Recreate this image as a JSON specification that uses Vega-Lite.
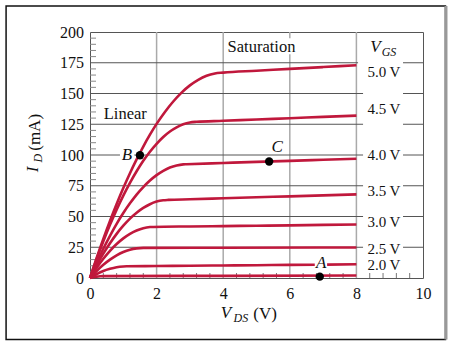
{
  "$schema": "https://vega.github.io/schema/vega-lite/v6.json",
  "width": 333,
  "height": 246,
  "autosize": {"type": "none"},
  "padding": {"left": 90, "top": 32, "right": 32, "bottom": 68},
  "background": "white",
  "config": {
    "view": {"stroke": "#555555", "strokeWidth": 1},
    "font": "Liberation Serif",
    "axis": {"grid": false, "domain": false, "ticks": false, "title": null, "labelFont": "Liberation Serif", "labelFontSize": 16, "labelColor": "#111111", "labelOverlap": false, "labelBound": false, "labelFlush": false}
  },
  "layer": [
    {
      "data": {"values": [{"x0": -2.52, "x1": 10.675, "y0": -50, "y1": 221.2}]},
      "mark": {"type": "rect", "fill": null, "stroke": "#111111", "strokeWidth": 1.5},
      "encoding": {
        "x": {"field": "x0", "type": "quantitative", "scale": {"domain": [0, 10], "nice": false, "zero": false}, "axis": {"values": [0, 2, 4, 6, 8, 10], "tickCount": 50, "format": "d", "labelPadding": 7}},
        "x2": {"field": "x1"},
        "y": {"field": "y0", "type": "quantitative", "scale": {"domain": [0, 200], "nice": false, "zero": false}, "axis": {"values": [0, 25, 50, 75, 100, 125, 150, 175, 200], "tickCount": 50, "format": "d", "labelPadding": 6.5}},
        "y2": {"field": "y1"}
      }
    },
    {
      "data": {"values": [{"x": 10.69, "y0": -50, "y1": 221.2}]},
      "mark": {"type": "rule", "stroke": "#999999", "strokeWidth": 3},
      "encoding": {"x": {"field": "x", "type": "quantitative"}, "y": {"field": "y0", "type": "quantitative"}, "y2": {"field": "y1"}}
    },
    {
      "data": {"values": [
        {"x": 2, "y0": 0, "y1": 200},
        {"x": 4, "y0": 0, "y1": 200},
        {"x": 6, "y0": 0, "y1": 182},
        {"x": 6, "y0": 195, "y1": 200},
        {"x": 8, "y0": 0, "y1": 200}
      ]},
      "mark": {"type": "rule", "stroke": "#aaaaaa", "strokeWidth": 1.5},
      "encoding": {"x": {"field": "x", "type": "quantitative"}, "y": {"field": "y0", "type": "quantitative"}, "y2": {"field": "y1"}}
    },
    {
      "data": {"values": [
        {"y": 25, "x0": 0, "x1": 8.2}, {"y": 25, "x0": 9.4, "x1": 10},
        {"y": 50, "x0": 0, "x1": 8.2}, {"y": 50, "x0": 9.4, "x1": 10},
        {"y": 75, "x0": 0, "x1": 8.2}, {"y": 75, "x0": 9.4, "x1": 10},
        {"y": 100, "x0": 0, "x1": 0.9}, {"y": 100, "x0": 1.33, "x1": 8.2}, {"y": 100, "x0": 9.4, "x1": 10},
        {"y": 125, "x0": 0, "x1": 8.2}, {"y": 125, "x0": 9.4, "x1": 10},
        {"y": 150, "x0": 0, "x1": 8.2}, {"y": 150, "x0": 9.4, "x1": 10},
        {"y": 175, "x0": 0, "x1": 8.05}, {"y": 175, "x0": 9.4, "x1": 10}
      ]},
      "mark": {"type": "rule", "stroke": "#555555", "strokeWidth": 1},
      "encoding": {"y": {"field": "y", "type": "quantitative"}, "x": {"field": "x0", "type": "quantitative"}, "x2": {"field": "x1"}}
    },
    {
      "data": {"values": [{"x": 0.4}, {"x": 0.8}, {"x": 1.2}, {"x": 1.6}, {"x": 2.4}, {"x": 2.8}, {"x": 3.2}, {"x": 3.6}, {"x": 4.4}, {"x": 4.8}, {"x": 5.2}, {"x": 5.6}, {"x": 6.4}, {"x": 6.8}, {"x": 7.2}, {"x": 7.6}, {"x": 8.4}, {"x": 8.8}, {"x": 9.2}, {"x": 9.6}]},
      "mark": {"type": "tick", "orient": "vertical", "color": "#777777", "size": 5, "thickness": 1, "yOffset": -2.5, "opacity": 1},
      "encoding": {"x": {"field": "x", "type": "quantitative"}, "y": {"datum": 0, "type": "quantitative"}}
    },
    {
      "data": {"values": [{"y": 5}, {"y": 10}, {"y": 15}, {"y": 20}, {"y": 30}, {"y": 35}, {"y": 40}, {"y": 45}, {"y": 55}, {"y": 60}, {"y": 65}, {"y": 70}, {"y": 80}, {"y": 85}, {"y": 90}, {"y": 95}, {"y": 105}, {"y": 110}, {"y": 115}, {"y": 120}, {"y": 130}, {"y": 135}, {"y": 140}, {"y": 145}, {"y": 155}, {"y": 160}, {"y": 165}, {"y": 170}, {"y": 180}, {"y": 185}, {"y": 190}, {"y": 195}]},
      "mark": {"type": "tick", "orient": "horizontal", "color": "#888888", "size": 6, "thickness": 1, "xOffset": 3, "opacity": 1},
      "encoding": {"y": {"field": "y", "type": "quantitative"}, "x": {"datum": 0, "type": "quantitative"}}
    },
    {
      "data": {"values": [
        {"vgs": "5.0", "x": 0, "y": 0}, {"vgs": "5.0", "x": 0.2, "y": 16.3}, {"vgs": "5.0", "x": 0.4, "y": 31.7}, {"vgs": "5.0", "x": 0.6, "y": 46.3}, {"vgs": "5.0", "x": 0.8, "y": 60.1}, {"vgs": "5.0", "x": 1, "y": 73.1}, {"vgs": "5.0", "x": 1.2, "y": 85.2}, {"vgs": "5.0", "x": 1.4, "y": 96.4}, {"vgs": "5.0", "x": 1.6, "y": 106.9}, {"vgs": "5.0", "x": 1.8, "y": 116.5}, {"vgs": "5.0", "x": 2, "y": 125.3}, {"vgs": "5.0", "x": 2.25, "y": 135}, {"vgs": "5.0", "x": 2.5, "y": 143.5}, {"vgs": "5.0", "x": 2.75, "y": 150.7}, {"vgs": "5.0", "x": 3, "y": 156.6}, {"vgs": "5.0", "x": 3.25, "y": 161.1}, {"vgs": "5.0", "x": 3.5, "y": 164.4}, {"vgs": "5.0", "x": 3.75, "y": 166.3}, {"vgs": "5.0", "x": 4, "y": 167}, {"vgs": "5.0", "x": 5, "y": 168.5}, {"vgs": "5.0", "x": 6, "y": 170}, {"vgs": "5.0", "x": 7, "y": 171.5}, {"vgs": "5.0", "x": 8, "y": 173},
        {"vgs": "4.5", "x": 0, "y": 0}, {"vgs": "4.5", "x": 0.2, "y": 15.4}, {"vgs": "4.5", "x": 0.4, "y": 29.8}, {"vgs": "4.5", "x": 0.6, "y": 43.2}, {"vgs": "4.5", "x": 0.8, "y": 55.6}, {"vgs": "4.5", "x": 1, "y": 67}, {"vgs": "4.5", "x": 1.2, "y": 77.4}, {"vgs": "4.5", "x": 1.4, "y": 86.8}, {"vgs": "4.5", "x": 1.6, "y": 95.3}, {"vgs": "4.5", "x": 1.8, "y": 102.7}, {"vgs": "4.5", "x": 2, "y": 109.1}, {"vgs": "4.5", "x": 2.2, "y": 114.6}, {"vgs": "4.5", "x": 2.4, "y": 119.1}, {"vgs": "4.5", "x": 2.6, "y": 122.5}, {"vgs": "4.5", "x": 2.8, "y": 125}, {"vgs": "4.5", "x": 3, "y": 126.5}, {"vgs": "4.5", "x": 3.2, "y": 127}, {"vgs": "4.5", "x": 4, "y": 127.8}, {"vgs": "4.5", "x": 5, "y": 128.9}, {"vgs": "4.5", "x": 6, "y": 129.9}, {"vgs": "4.5", "x": 7, "y": 131}, {"vgs": "4.5", "x": 8, "y": 132},
        {"vgs": "4.0", "x": 0, "y": 0}, {"vgs": "4.0", "x": 0.2, "y": 12.3}, {"vgs": "4.0", "x": 0.4, "y": 23.8}, {"vgs": "4.0", "x": 0.6, "y": 34.3}, {"vgs": "4.0", "x": 0.8, "y": 44}, {"vgs": "4.0", "x": 1, "y": 52.8}, {"vgs": "4.0", "x": 1.2, "y": 60.7}, {"vgs": "4.0", "x": 1.4, "y": 67.8}, {"vgs": "4.0", "x": 1.6, "y": 73.9}, {"vgs": "4.0", "x": 1.8, "y": 79.2}, {"vgs": "4.0", "x": 2, "y": 83.6}, {"vgs": "4.0", "x": 2.2, "y": 87.1}, {"vgs": "4.0", "x": 2.4, "y": 89.8}, {"vgs": "4.0", "x": 2.6, "y": 91.5}, {"vgs": "4.0", "x": 2.8, "y": 92.4}, {"vgs": "4.0", "x": 2.9, "y": 92.5}, {"vgs": "4.0", "x": 4, "y": 93.5}, {"vgs": "4.0", "x": 5, "y": 94.4}, {"vgs": "4.0", "x": 6, "y": 95.2}, {"vgs": "4.0", "x": 7, "y": 96.1}, {"vgs": "4.0", "x": 8, "y": 97},
        {"vgs": "3.5", "x": 0, "y": 0}, {"vgs": "3.5", "x": 0.2, "y": 10.4}, {"vgs": "3.5", "x": 0.4, "y": 19.8}, {"vgs": "3.5", "x": 0.6, "y": 28.3}, {"vgs": "3.5", "x": 0.8, "y": 35.9}, {"vgs": "3.5", "x": 1, "y": 42.5}, {"vgs": "3.5", "x": 1.2, "y": 48.3}, {"vgs": "3.5", "x": 1.4, "y": 53.1}, {"vgs": "3.5", "x": 1.6, "y": 57}, {"vgs": "3.5", "x": 1.8, "y": 60}, {"vgs": "3.5", "x": 2, "y": 62.1}, {"vgs": "3.5", "x": 2.2, "y": 63.2}, {"vgs": "3.5", "x": 2.35, "y": 63.5}, {"vgs": "3.5", "x": 3, "y": 64}, {"vgs": "3.5", "x": 4, "y": 64.8}, {"vgs": "3.5", "x": 5, "y": 65.6}, {"vgs": "3.5", "x": 6, "y": 66.4}, {"vgs": "3.5", "x": 7, "y": 67.2}, {"vgs": "3.5", "x": 8, "y": 68},
        {"vgs": "3.0", "x": 0, "y": 0}, {"vgs": "3.0", "x": 0.2, "y": 8.3}, {"vgs": "3.0", "x": 0.4, "y": 15.6}, {"vgs": "3.0", "x": 0.6, "y": 22.1}, {"vgs": "3.0", "x": 0.8, "y": 27.6}, {"vgs": "3.0", "x": 1, "y": 32.2}, {"vgs": "3.0", "x": 1.2, "y": 35.9}, {"vgs": "3.0", "x": 1.4, "y": 38.6}, {"vgs": "3.0", "x": 1.6, "y": 40.5}, {"vgs": "3.0", "x": 1.8, "y": 41.4}, {"vgs": "3.0", "x": 1.9, "y": 41.5}, {"vgs": "3.0", "x": 3, "y": 41.9}, {"vgs": "3.0", "x": 4, "y": 42.2}, {"vgs": "3.0", "x": 5, "y": 42.5}, {"vgs": "3.0", "x": 6, "y": 42.8}, {"vgs": "3.0", "x": 7, "y": 43.2}, {"vgs": "3.0", "x": 8, "y": 43.5},
        {"vgs": "2.5", "x": 0, "y": 0}, {"vgs": "2.5", "x": 0.2, "y": 5.7}, {"vgs": "2.5", "x": 0.4, "y": 10.7}, {"vgs": "2.5", "x": 0.6, "y": 14.9}, {"vgs": "2.5", "x": 0.8, "y": 18.4}, {"vgs": "2.5", "x": 1, "y": 21.1}, {"vgs": "2.5", "x": 1.2, "y": 23}, {"vgs": "2.5", "x": 1.4, "y": 24.1}, {"vgs": "2.5", "x": 1.6, "y": 24.5}, {"vgs": "2.5", "x": 4, "y": 24.6}, {"vgs": "2.5", "x": 8, "y": 24.8},
        {"vgs": "2.0", "x": 0, "y": 0}, {"vgs": "2.0", "x": 0.2, "y": 3.1}, {"vgs": "2.0", "x": 0.4, "y": 5.7}, {"vgs": "2.0", "x": 0.6, "y": 7.5}, {"vgs": "2.0", "x": 0.8, "y": 8.8}, {"vgs": "2.0", "x": 1, "y": 9.4}, {"vgs": "2.0", "x": 1.1, "y": 9.5}, {"vgs": "2.0", "x": 2, "y": 9.7}, {"vgs": "2.0", "x": 3, "y": 10}, {"vgs": "2.0", "x": 4, "y": 10.2}, {"vgs": "2.0", "x": 5, "y": 10.4}, {"vgs": "2.0", "x": 6, "y": 10.7}, {"vgs": "2.0", "x": 6.75, "y": 10.8},
        {"vgs": "2.0 after A", "x": 7.12, "y": 10.9}, {"vgs": "2.0 after A", "x": 8, "y": 11.2},
        {"vgs": "below", "x": 0, "y": 0}, {"vgs": "below", "x": 0.1, "y": 0.66}, {"vgs": "below", "x": 0.2, "y": 1.1}, {"vgs": "below", "x": 0.3, "y": 1.4}, {"vgs": "below", "x": 0.4, "y": 1.5}, {"vgs": "below", "x": 4, "y": 1.75}, {"vgs": "below", "x": 8, "y": 2}
      ]},
      "mark": {"type": "line", "interpolate": "monotone", "stroke": "#c0183c", "strokeWidth": 2.6, "strokeCap": "butt"},
      "encoding": {"x": {"field": "x", "type": "quantitative"}, "y": {"field": "y", "type": "quantitative"}, "detail": {"field": "vgs"}}
    },
    {
      "data": {"values": [{"name": "A", "x": 6.9, "y": 1.1}, {"name": "B", "x": 1.5, "y": 99.8}, {"name": "C", "x": 5.38, "y": 94.7}]},
      "mark": {"type": "circle", "color": "black", "opacity": 1, "size": 70},
      "encoding": {"x": {"field": "x", "type": "quantitative"}, "y": {"field": "y", "type": "quantitative"}}
    },
    {
      "data": {"values": [{"t": "Saturation", "x": 5.15, "y": 188}, {"t": "Linear", "x": 1.06, "y": 133}]},
      "mark": {"type": "text", "font": "Liberation Serif", "fontSize": 16.5, "color": "#111111", "baseline": "middle"},
      "encoding": {"x": {"field": "x", "type": "quantitative"}, "y": {"field": "y", "type": "quantitative"}, "text": {"field": "t"}}
    },
    {
      "data": {"values": [{"t": "A", "x": 6.94, "y": 12}, {"t": "B", "x": 1.11, "y": 99.6}, {"t": "C", "x": 5.62, "y": 106.7}, {"t": "V", "x": 8.57, "y": 188}, {"t": "V", "x": 4.08, "y": -28.6}]},
      "mark": {"type": "text", "font": "Liberation Serif", "fontSize": 17, "fontStyle": "italic", "color": "#111111", "baseline": "middle"},
      "encoding": {"x": {"field": "x", "type": "quantitative"}, "y": {"field": "y", "type": "quantitative"}, "text": {"field": "t"}}
    },
    {
      "data": {"values": [{"t": "GS", "x": 8.98, "y": 184}, {"t": "DS", "x": 4.53, "y": -32.3}]},
      "mark": {"type": "text", "font": "Liberation Serif", "fontSize": 12, "fontStyle": "italic", "color": "#111111", "baseline": "middle"},
      "encoding": {"x": {"field": "x", "type": "quantitative"}, "y": {"field": "y", "type": "quantitative"}, "text": {"field": "t"}}
    },
    {
      "data": {"values": [{"t": "(V)", "x": 5.26, "y": -29.4}]},
      "mark": {"type": "text", "font": "Liberation Serif", "fontSize": 17, "color": "#111111", "baseline": "middle"},
      "encoding": {"x": {"field": "x", "type": "quantitative"}, "y": {"field": "y", "type": "quantitative"}, "text": {"field": "t"}}
    },
    {
      "data": {"values": [{"t": "I", "x": -1.71, "y": 88.2}]},
      "mark": {"type": "text", "font": "Liberation Serif", "fontSize": 17, "fontStyle": "italic", "angle": 270, "color": "#111111", "baseline": "middle"},
      "encoding": {"x": {"field": "x", "type": "quantitative"}, "y": {"field": "y", "type": "quantitative"}, "text": {"field": "t"}}
    },
    {
      "data": {"values": [{"t": "D", "x": -1.57, "y": 97.5}]},
      "mark": {"type": "text", "font": "Liberation Serif", "fontSize": 12, "fontStyle": "italic", "angle": 270, "color": "#111111", "baseline": "middle"},
      "encoding": {"x": {"field": "x", "type": "quantitative"}, "y": {"field": "y", "type": "quantitative"}, "text": {"field": "t"}}
    },
    {
      "data": {"values": [{"t": "(mA)", "x": -1.65, "y": 118.4}]},
      "mark": {"type": "text", "font": "Liberation Serif", "fontSize": 17, "angle": 270, "color": "#111111", "baseline": "middle"},
      "encoding": {"x": {"field": "x", "type": "quantitative"}, "y": {"field": "y", "type": "quantitative"}, "text": {"field": "t"}}
    },
    {
      "data": {"values": [{"t": "5.0 V", "x": 8.33, "y": 167.6}, {"t": "4.5 V", "x": 8.33, "y": 137.1}, {"t": "4.0 V", "x": 8.33, "y": 99.8}, {"t": "3.5 V", "x": 8.33, "y": 70.5}, {"t": "3.0 V", "x": 8.33, "y": 45.2}, {"t": "2.5 V", "x": 8.33, "y": 23.7}, {"t": "2.0 V", "x": 8.33, "y": 10.6}]},
      "mark": {"type": "text", "font": "Liberation Serif", "fontSize": 15, "color": "#111111", "align": "left", "baseline": "middle"},
      "encoding": {"x": {"field": "x", "type": "quantitative"}, "y": {"field": "y", "type": "quantitative"}, "text": {"field": "t"}}
    }
  ]
}
